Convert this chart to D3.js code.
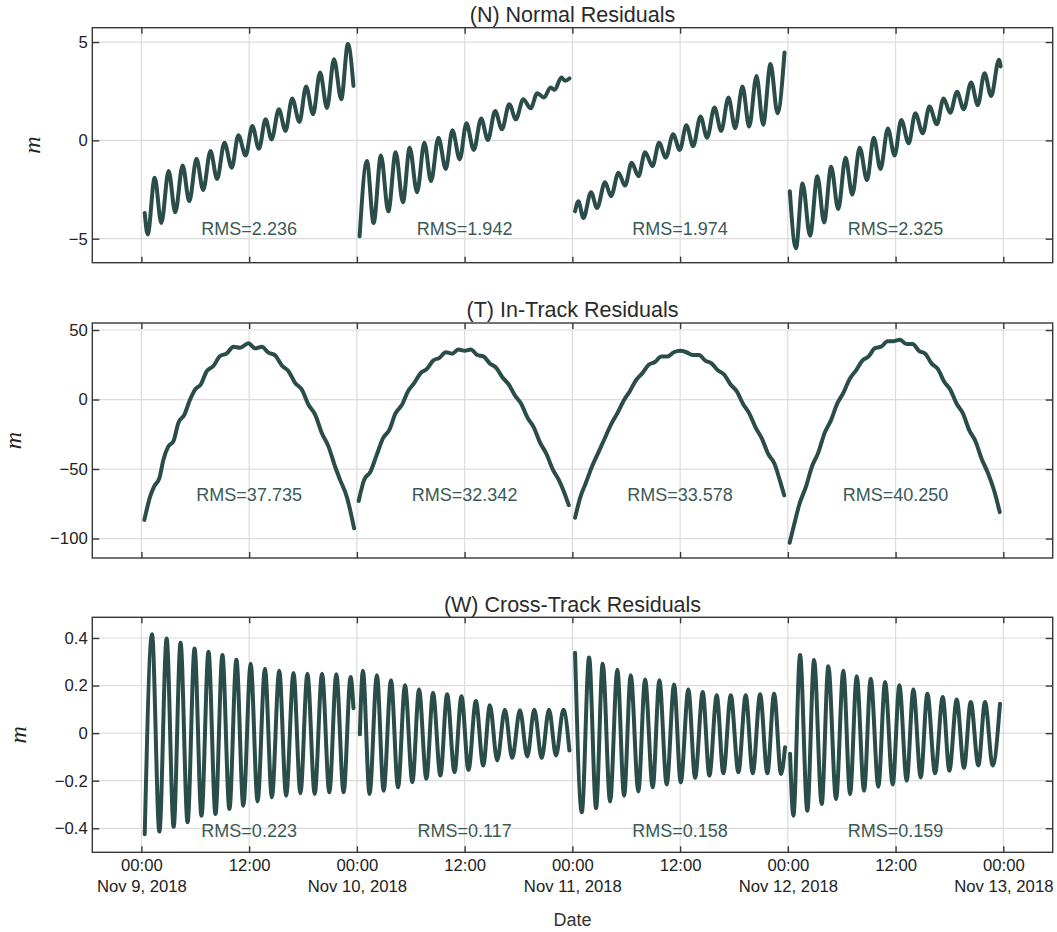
<!DOCTYPE html>
<html><head><meta charset="utf-8">
<script src="https://cdn.jsdelivr.net/npm/d3@7"></script>
<style>body{margin:0;background:#fff}</style>
</head><body><svg id="chart" width="1057" height="932"></svg>
<script>
// ---------------- DATA (hours since Nov 9, 2018 00:00 UTC, value in m) ----------------
const normalSeg1 = [[0.37,-3.69],[0.70,-4.78],[1.48,-1.90],[2.22,-4.20],[3.03,-1.56],[3.77,-3.66],[4.59,-1.28],[5.33,-3.10],[6.14,-0.94],[6.88,-2.53],[7.69,-0.54],[8.43,-1.96],[9.25,-0.12],[10.06,-1.39],[10.80,0.26],[11.61,-0.77],[12.35,0.73],[13.09,-0.43],[13.83,1.07],[14.50,0.05],[15.31,1.58],[16.05,0.48],[16.79,2.13],[17.60,0.94],[18.34,2.74],[19.12,1.33],[19.90,3.45],[20.67,1.65],[21.45,4.13],[22.26,2.09],[23.00,4.90],[23.62,2.77]];
const normalSeg2 = [[24.30,-4.88],[25.12,-1.05],[25.86,-4.20],[26.68,-0.77],[27.50,-3.61],[28.32,-0.60],[29.13,-3.15],[29.88,-0.37],[30.70,-2.64],[31.52,-0.12],[32.26,-2.07],[33.08,0.14],[33.90,-1.45],[34.64,0.51],[35.46,-0.97],[36.20,0.87],[37.02,-0.49],[37.84,1.11],[38.59,0.02],[39.40,1.50],[40.15,0.56],[40.97,1.84],[41.71,1.07],[42.53,2.09],[43.35,1.63],[44.09,2.40],[44.84,2.18],[45.58,2.69],[46.03,2.57],[46.77,3.20],[47.18,3.03],[47.67,3.15]];
const normalSeg3 = [[48.30,-3.61],[48.67,-3.10],[49.23,-3.95],[50.08,-2.64],[50.75,-3.44],[51.64,-2.13],[52.31,-2.84],[53.13,-1.65],[53.87,-2.30],[54.61,-1.14],[55.36,-1.82],[56.10,-0.60],[56.92,-1.31],[57.66,-0.12],[58.40,-0.88],[59.22,0.31],[59.96,-0.49],[60.70,0.77],[61.45,-0.29],[62.27,1.21],[63.01,0.14],[63.83,1.67],[64.57,0.48],[65.39,2.18],[66.13,0.62],[66.95,2.74],[67.69,0.70],[68.51,3.28],[69.25,0.80],[70.07,3.88],[70.85,1.38],[71.63,4.47]];
const normalSeg4 = [[72.22,-2.59],[72.90,-5.48],[73.64,-2.19],[74.47,-4.85],[75.29,-1.82],[76.04,-4.17],[76.82,-1.34],[77.61,-3.49],[78.43,-0.88],[79.18,-2.76],[80.00,-0.37],[80.82,-2.02],[81.57,0.14],[82.32,-1.45],[83.14,0.60],[83.89,-0.77],[84.63,1.04],[85.46,-0.15],[86.20,1.38],[87.03,0.36],[87.77,1.72],[88.60,0.82],[89.34,2.13],[90.09,1.41],[90.84,2.47],[91.59,1.58],[92.41,2.94],[93.16,1.79],[93.90,3.42],[94.65,2.26],[95.51,4.10],[95.70,3.76]];

const trackSeg1 = [[0.33,-86.6],[0.97,-69.8],[1.41,-62.6],[2.00,-56.6],[2.45,-43.3],[3.00,-33.7],[3.56,-30.1],[4.12,-16.8],[4.79,-10.8],[5.42,0.0],[5.98,7.2],[6.61,10.8],[7.28,20.4],[8.02,24.1],[8.76,31.3],[9.51,33.2],[10.25,38.0],[10.99,37.3],[11.92,40.4],[12.66,36.8],[13.41,38.0],[14.15,33.7],[14.89,31.8],[15.64,24.5],[16.38,20.4],[17.12,12.0],[17.86,7.2],[18.60,-3.6],[19.35,-10.8],[20.09,-24.1],[20.83,-33.7],[21.57,-48.2],[22.13,-57.8],[22.87,-69.8],[23.69,-92.6]];
const trackSeg2 = [[24.2,-73],[24.8,-58],[25.5,-52],[26.2,-40],[26.9,-28],[27.6,-22],[28.3,-10],[29.0,-4],[29.7,6],[30.4,12],[31.1,19],[31.8,22],[32.5,28],[33.2,30],[33.9,34],[34.6,33],[35.3,36],[36.0,35],[36.7,36],[37.4,32],[38.1,31],[38.8,26],[39.5,23],[40.2,16],[40.9,11],[41.6,3],[42.3,-3],[43.0,-13],[43.7,-20],[44.4,-31],[45.1,-39],[45.8,-50],[46.5,-58],[47.1,-67],[47.6,-76]];
const trackSeg3 = [[48.3,-85],[48.9,-70],[49.5,-60],[50.2,-48],[50.9,-38],[51.6,-28],[52.3,-18],[53.0,-10],[53.7,-1],[54.4,6],[55.1,14],[55.8,19],[56.5,25],[57.2,27],[57.9,31],[58.6,31],[59.3,34],[60.0,35],[60.7,34],[61.4,32],[62.1,32],[62.8,28],[63.5,26],[64.2,21],[64.9,18],[65.6,11],[66.3,6],[67.0,-3],[67.7,-10],[68.4,-20],[69.1,-28],[69.8,-39],[70.5,-46],[71.1,-58],[71.6,-69]];
const trackSeg4 = [[72.2,-103],[72.7,-90],[73.3,-75],[74.0,-63],[74.7,-48],[75.4,-38],[76.1,-24],[76.8,-15],[77.5,-3],[78.2,5],[78.9,15],[79.6,21],[80.3,28],[81.0,31],[81.7,37],[82.4,38],[83.1,42],[83.8,42],[84.5,43],[85.2,40],[85.9,40],[86.6,35],[87.3,33],[88.0,26],[88.7,22],[89.4,13],[90.1,7],[90.8,-3],[91.5,-10],[92.2,-22],[92.9,-30],[93.6,-43],[94.3,-53],[95.0,-66],[95.6,-81]];

const crossSeg1 = [[0.37,-0.425],[1.18,0.416],[2.00,-0.414],[2.81,0.398],[3.59,-0.394],[4.36,0.380],[5.14,-0.375],[5.92,0.356],[6.69,-0.347],[7.47,0.342],[8.25,-0.340],[9.02,0.328],[9.80,-0.319],[10.58,0.309],[11.35,-0.305],[12.17,0.292],[12.94,-0.287],[13.76,0.271],[14.53,-0.270],[15.35,0.262],[16.12,-0.263],[16.94,0.253],[17.71,-0.253],[18.49,0.250],[19.30,-0.256],[20.12,0.250],[20.93,-0.249],[21.71,0.248],[22.52,-0.249],[23.30,0.236],[23.62,0.105]];
const crossSeg2 = [[24.33,-0.005],[24.67,0.262],[25.41,-0.256],[26.23,0.243],[26.98,-0.242],[27.80,0.222],[28.58,-0.228],[29.36,0.201],[30.18,-0.206],[30.92,0.183],[31.74,-0.192],[32.48,0.169],[33.30,-0.178],[34.05,0.163],[34.87,-0.164],[35.65,0.155],[36.43,-0.155],[37.25,0.135],[38.07,-0.136],[38.81,0.117],[39.63,-0.115],[40.48,0.098],[41.30,-0.104],[42.16,0.096],[42.98,-0.098],[43.76,0.098],[44.58,-0.104],[45.40,0.098],[46.18,-0.094],[47.00,0.098],[47.67,-0.073]];
const crossSeg3 = [[48.30,0.338],[49.05,-0.333],[49.86,0.318],[50.64,-0.315],[51.38,0.292],[52.20,-0.287],[53.01,0.267],[53.76,-0.263],[54.50,0.243],[55.35,-0.245],[56.10,0.225],[56.95,-0.228],[57.69,0.222],[58.51,-0.216],[59.33,0.205],[60.07,-0.207],[60.92,0.183],[61.67,-0.188],[62.52,0.173],[63.26,-0.179],[64.08,0.159],[64.82,-0.169],[65.64,0.159],[66.49,-0.164],[67.31,0.159],[68.09,-0.169],[68.91,0.163],[69.72,-0.169],[70.47,0.166],[71.24,-0.172],[71.69,-0.059]];
const crossSeg4 = [[72.25,-0.087],[72.62,-0.347],[73.36,0.328],[74.17,-0.326],[74.92,0.307],[75.77,-0.298],[76.51,0.281],[77.37,-0.277],[78.18,0.262],[78.93,-0.256],[79.67,0.239],[80.49,-0.242],[81.23,0.229],[82.08,-0.225],[82.83,0.215],[83.68,-0.216],[84.42,0.201],[85.24,-0.200],[85.98,0.183],[86.80,-0.186],[87.54,0.166],[88.40,-0.169],[89.25,0.152],[89.99,-0.158],[90.81,0.141],[91.62,-0.146],[92.37,0.131],[93.22,-0.136],[93.96,0.131],[94.82,-0.136],[95.63,0.124]];

const titles = ["(N) Normal Residuals", "(T) In-Track Residuals", "(W) Cross-Track Residuals"];
const rmsNormal = ["RMS=2.236","RMS=1.942","RMS=1.974","RMS=2.325"];
const rmsTrack  = ["RMS=37.735","RMS=32.342","RMS=33.578","RMS=40.250"];
const rmsCross  = ["RMS=0.223","RMS=0.117","RMS=0.158","RMS=0.159"];
const rmsLabelHours = [12, 36, 60, 84];
const yTicksNormal = [-5, 0, 5];
const yTicksTrack = [-100, -50, 0, 50];
const yTicksCross = [-0.4, -0.2, 0, 0.2, 0.4];
const xTickHours = [0, 12, 24, 36, 48, 60, 72, 84, 96];
const xAxisLabel = "Date";
const yAxisLabel = "m";

// ---------------- LAYOUT ----------------
const W = 1057, H = 932;
const L = 92.3, R = 1052.7, PH = 235;
const DAY0 = Date.UTC(2018, 10, 9);
const toDate = h => new Date(DAY0 + h * 3600000);

const panels = [
  {title: titles[0], segs: [normalSeg1, normalSeg2, normalSeg3, normalSeg4], rms: rmsNormal,
   top: 27.7, dom: [-6.22, 5.73], ticks: yTicksNormal, rmsLevel: -4.81, ylabX: 40, fmt: d => d3.format("d")(d)},
  {title: titles[1], segs: [trackSeg1, trackSeg2, trackSeg3, trackSeg4], rms: rmsTrack,
   top: 323, dom: [-114, 55.05], ticks: yTicksTrack, rmsLevel: -72.7, ylabX: 21, fmt: d => d3.format("d")(d)},
  {title: titles[2], segs: [crossSeg1, crossSeg2, crossSeg3, crossSeg4], rms: rmsCross,
   top: 617.3, dom: [-0.501, 0.487], ticks: yTicksCross, rmsLevel: -0.438, ylabX: 25.5, fmt: d => d === 0 ? "0" : d3.format(".1f")(d)}
];

const LINE = "#2b4d4a", TXT = "#222", GRID = "#dcdcdc", FRAME = "#383838";
const FONT = "'Liberation Sans', Arial, sans-serif";

const svg = d3.select("#chart");
svg.append("rect").attr("width", W).attr("height", H).attr("fill", "#fff");

const x = d3.scaleUtc().domain([toDate(-5.47), toDate(101.5)]).range([L, R]);
const xTickDates = xTickHours.map(toDate);

panels.forEach((p, i) => {
  const top = p.top, bot = top + PH;
  const y = d3.scaleLinear().domain(p.dom).range([bot, top]);
  const g = svg.append("g");

  // grid
  g.selectAll(".vg").data(xTickDates).join("line")
    .attr("x1", d => x(d)).attr("x2", d => x(d)).attr("y1", top).attr("y2", bot)
    .attr("stroke", GRID).attr("stroke-width", 1.2);
  g.selectAll(".hg").data(p.ticks).join("line")
    .attr("x1", L).attr("x2", R).attr("y1", d => y(d)).attr("y2", d => y(d))
    .attr("stroke", GRID).attr("stroke-width", 1.2);

  // data
  const line = d3.line().x(d => x(toDate(d[0]))).y(d => y(d[1])).curve(d3.curveMonotoneX);
  g.selectAll(".seg").data(p.segs).join("path")
    .attr("d", line).attr("fill", "none").attr("stroke", LINE)
    .attr("stroke-width", 4).attr("stroke-linejoin", "round").attr("stroke-linecap", "round");

  // RMS labels
  g.selectAll(".rms").data(p.rms).join("text")
    .attr("x", (d, k) => x(toDate(rmsLabelHours[k]))).attr("y", y(p.rmsLevel))
    .attr("text-anchor", "middle").attr("font-family", FONT).attr("font-size", 18)
    .attr("fill", "#3a5a57").text(d => d);

  // frame
  g.append("rect").attr("x", L).attr("y", top).attr("width", R - L).attr("height", PH)
    .attr("fill", "none").attr("stroke", FRAME).attr("stroke-width", 1.4);

  // axes (ticks inward)
  const topAx = g.append("g").attr("transform", `translate(0,${top})`)
    .call(d3.axisBottom(x).tickValues(xTickDates).tickSizeInner(6).tickSizeOuter(0).tickFormat(""));
  const botAx = g.append("g").attr("transform", `translate(0,${bot})`)
    .call(d3.axisBottom(x).tickValues(xTickDates).tickSizeInner(-6).tickSizeOuter(0).tickPadding(7)
      .tickFormat(i === 2 ? d3.utcFormat("%H:%M") : ""));
  const leftAx = g.append("g").attr("transform", `translate(${L},0)`)
    .call(d3.axisLeft(y).tickValues(p.ticks).tickSizeInner(-7).tickSizeOuter(0).tickPadding(4.6).tickFormat(p.fmt));
  const rightAx = g.append("g").attr("transform", `translate(${R},0)`)
    .call(d3.axisRight(y).tickValues(p.ticks).tickSizeInner(-7).tickSizeOuter(0).tickFormat(""));
  [topAx, botAx, leftAx, rightAx].forEach(a => {
    a.select(".domain").remove();
    a.selectAll(".tick line").attr("stroke", FRAME).attr("stroke-width", 1.4);
    a.selectAll(".tick text").attr("font-family", FONT).attr("font-size", 16.7).attr("fill", TXT);
  });
  if (i === 2) {
    botAx.selectAll(".tick text").each(function (d) {
      const t = d3.select(this);
      if (d.getUTCHours() === 0) {
        t.append("tspan").attr("x", 0).attr("dy", "1.24em").text(d3.utcFormat("%b %-d, %Y")(d));
      }
    });
    botAx.selectAll(".tick text").each(function (d) {
      const node = this.firstChild;
      if (node && node.nodeType === 3) {
        const s = node.textContent; this.removeChild(node);
        d3.select(this).insert("tspan", ":first-child").attr("x", 0).text(s);
      }
    });
  }

  // title
  svg.append("text").attr("x", (L + R) / 2).attr("y", top - 5.6).attr("text-anchor", "middle")
    .attr("font-family", FONT).attr("font-size", 21.5).attr("fill", "#2a2a2a").text(p.title);

  // y label
  svg.append("text").attr("transform", `translate(${p.ylabX},${(top + bot) / 2}) rotate(-90)`)
    .attr("text-anchor", "middle").attr("font-family", "'Liberation Serif', 'Times New Roman', serif")
    .attr("font-style", "italic").attr("font-size", 24).attr("fill", TXT).text(yAxisLabel);
});

svg.append("text").attr("x", (L + R) / 2).attr("y", 925.5).attr("text-anchor", "middle")
  .attr("font-family", FONT).attr("font-size", 18).attr("fill", "#333").text(xAxisLabel);
</script></body></html>
